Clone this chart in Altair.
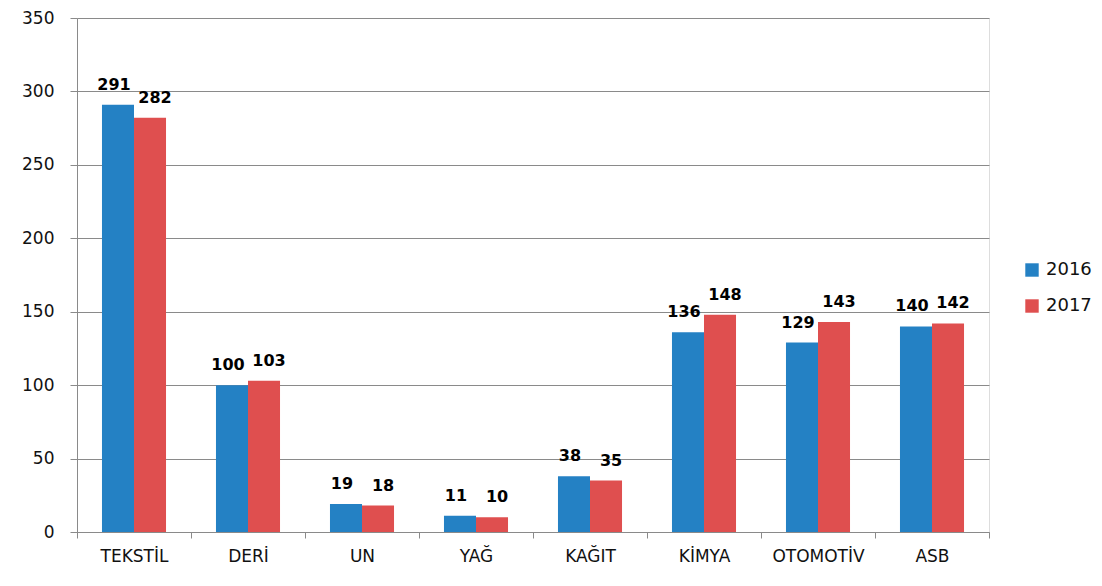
import altair as alt
import pandas as pd

categories = ["TEKSTİL", "DERİ", "UN", "YAĞ", "KAĞIT", "KİMYA", "OTOMOTİV", "ASB"]
years = ["2016", "2017"]
values_2016 = [291, 100, 19, 11, 38, 136, 129, 140]
values_2017 = [282, 103, 18, 10, 35, 148, 143, 142]
y_ticks = [0, 50, 100, 150, 200, 250, 300, 350]
colors = ["#2481C4", "#DF4F4F"]

rows = []
for c, a, b in zip(categories, values_2016, values_2017):
    rows.append({"cat": c, "year": years[0], "value": a})
    rows.append({"cat": c, "year": years[1], "value": b})
df = pd.DataFrame(rows)

FONT = "DejaVu Sans"
GRID = "#8a8a8a"

x = alt.X(
    "cat:N",
    sort=categories,
    scale=alt.Scale(paddingInner=0, paddingOuter=0),
    axis=alt.Axis(
        title=None, labelAngle=0, tickBand="extent", grid=False,
        tickSize=6, tickColor=GRID, domainColor=GRID,
        labelFont=FONT, labelFontSize=17, labelColor="#111111", labelPadding=10,
    ),
)
xo = alt.XOffset("year:N", sort=years, scale=alt.Scale(paddingInner=0, paddingOuter=0.78))
y = alt.Y(
    "value:Q",
    scale=alt.Scale(domain=[0, 350]),
    axis=alt.Axis(
        title=None, values=y_ticks, tickSize=7, tickColor=GRID, domainColor=GRID,
        gridColor=GRID, labelFont=FONT, labelFontSize=17, labelColor="#111111",
        labelPadding=16,
    ),
)

base = alt.Chart(df).encode(x=x, xOffset=xo, y=y)

bars = base.mark_bar().encode(
    color=alt.Color(
        "year:N",
        sort=years,
        scale=alt.Scale(domain=years, range=colors),
        legend=alt.Legend(
            title=None, orient="none", legendX=946, legendY=243,
            symbolType="square", symbolSize=180, symbolStrokeWidth=0,
            symbolOpacity=1, labelFont=FONT, labelFontSize=18,
            labelColor="#111111", rowPadding=18, labelOffset=5,
        ),
    )
)

label_style = dict(baseline="alphabetic", dy=-15, font=FONT, fontSize=16,
                   fontWeight="bold", color="#000000")
labels_a = base.mark_text(dx=-4, **label_style).encode(text="value:Q").transform_filter(
    alt.datum.year == years[0]
)
labels_b = base.mark_text(dx=5, **label_style).encode(text="value:Q").transform_filter(
    alt.datum.year == years[1]
)

chart = (
    alt.layer(bars, labels_a, labels_b)
    .properties(
        width=912,
        height=514,
        autosize=alt.AutoSizeParams(type="none"),
        padding={"left": 69, "top": 10, "right": 105, "bottom": 50},
    )
    .configure_view(stroke="transparent")
    .configure(background="white")
)

chart.save("out.html", embed_options={"renderer": "svg", "actions": False})
